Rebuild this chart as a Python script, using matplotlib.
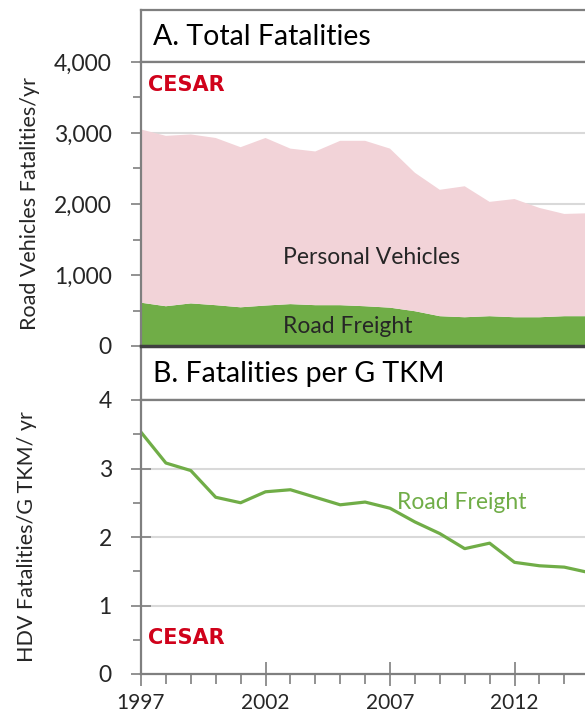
import matplotlib
matplotlib.use('Agg')
import matplotlib.pyplot as plt
from matplotlib.ticker import MultipleLocator, FuncFormatter

years = [1997, 1998, 1999, 2000, 2001, 2002, 2003, 2004, 2005, 2006,
         2007, 2008, 2009, 2010, 2011, 2012, 2013, 2014, 2015]
freight = [610, 560, 600, 575, 545, 570, 590, 575, 575, 560,
           540, 490, 420, 405, 420, 405, 405, 420, 420]
personal = [2440, 2400, 2380, 2355, 2255, 2360, 2190, 2165, 2315, 2330,
            2240, 1950, 1780, 1845, 1610, 1665, 1540, 1440, 1450]
per_gtkm = [3.53, 3.08, 2.97, 2.58, 2.50, 2.66, 2.69, 2.58, 2.47, 2.51,
            2.42, 2.22, 2.05, 1.83, 1.91, 1.63, 1.58, 1.56, 1.48]
xticks = [1997, 2002, 2007, 2012]

plt.rcParams['font.family'] = ['Lato', 'DejaVu Sans']
txt = '#262626'
frame = '#7f7f7f'
grid_c = '#d9d9d9'
green = '#70ad47'
pink = '#f2d3d8'
red = '#d0021b'

W, H = 585, 719
fig = plt.figure(figsize=(W / 100, H / 100), dpi=100)


def box(x0, y_top, x1, y_bot):
    # pixel box -> figure fraction rect
    return [x0 / W, 1 - y_bot / H, (x1 - x0) / W, (y_bot - y_top) / H]


left_px = 141
px_per_yr = 24.9
x0, x1 = 1997, 2016
right_px = left_px + px_per_yr * (x1 - x0)   # runs past the right edge, like the cropped original

# ---- title bands
for (yt, yb, label) in [(10, 62, 'A. Total Fatalities'), (346, 400, 'B. Fatalities per G TKM')]:
    tb = fig.add_axes(box(left_px, yt, right_px, yb))
    tb.set_xticks([])
    tb.set_yticks([])
    for s in tb.spines.values():
        s.set_color(frame)
        s.set_linewidth(1.6)
    tb.spines['right'].set_visible(False)
    tb.text(0.025, 0.48, label, transform=tb.transAxes, fontsize=20.5, color='black',
            va='center', ha='left')


def style(ax, major, minor):
    ax.set_axisbelow(True)
    ax.yaxis.grid(True, color=grid_c, linewidth=1.5)
    ax.yaxis.set_major_locator(MultipleLocator(major))
    ax.yaxis.set_minor_locator(MultipleLocator(minor))
    ax.tick_params(axis='y', which='major', direction='inout', length=14, width=1.2,
                   color=frame, labelsize=16.5, labelcolor=txt, pad=14)
    ax.tick_params(axis='y', which='minor', direction='out', length=6, width=1.2, color=frame)
    ax.spines['right'].set_visible(False)
    for s in ['left', 'top', 'bottom']:
        ax.spines[s].set_color(frame)
        ax.spines[s].set_linewidth(1.6)


# ---- panel A
ax1 = fig.add_axes(box(left_px, 62, right_px, 346))
ax1.stackplot(years, freight, personal, colors=[green, pink], linewidth=0)
style(ax1, 1000, 500)
ax1.set_ylim(0, 4000)
ax1.set_xticks([])
ax1.set_xlim(x0, x1)
ax1.yaxis.set_major_formatter(FuncFormatter(lambda v, p: f'{int(v):,}'))
ax1.spines['bottom'].set_color('#404040')
ax1.spines['bottom'].set_linewidth(2.5)
ax1.set_ylabel('Road Vehicles Fatalities/yr', fontsize=15.5, color=txt, labelpad=10)
ax1.text(2002.7, 1250, 'Personal Vehicles', fontsize=16.5, color=txt, ha='left', va='center')
ax1.text(2002.7, 270, 'Road Freight', fontsize=16.5, color=txt, ha='left', va='center')
ax1.text(0.015, 0.92, 'CESAR', transform=ax1.transAxes, fontsize=15, color=red,
         fontweight='bold', ha='left', va='center', family=['Liberation Sans Narrow', 'DejaVu Sans'])

# ---- panel B
ax2 = fig.add_axes(box(left_px, 400, right_px, 674))
ax2.plot(years, per_gtkm, color=green, linewidth=2.3)
style(ax2, 1, 0.5)
ax2.set_ylim(0, 4)
ax2.set_xticks(xticks)
ax2.xaxis.set_minor_locator(MultipleLocator(1))
ax2.set_xlim(x0, x1)
ax2.tick_params(axis='x', which='major', direction='inout', length=17, width=1.2,
                color=frame, labelsize=15, labelcolor=txt, pad=5)
ax2.tick_params(axis='x', which='minor', direction='out', length=7, width=1.2, color=frame)
ax2.set_ylabel('HDV Fatalities/G TKM/ yr', fontsize=15.5, color=txt, labelpad=44)
ax2.text(2007.3, 2.5, 'Road Freight', fontsize=16.5, color=green, ha='left', va='center')
ax2.text(0.015, 0.13, 'CESAR', transform=ax2.transAxes, fontsize=15, color=red,
         fontweight='bold', ha='left', va='center', family=['Liberation Sans Narrow', 'DejaVu Sans'])

fig.savefig('out.png', dpi=100)
